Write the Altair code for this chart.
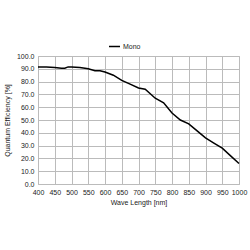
import altair as alt
import pandas as pd

wavelength = [400, 425, 450, 470, 480, 490, 500, 525, 550, 570, 585, 600, 625, 650, 675, 700, 720, 750, 775, 800, 825, 850, 875, 900, 925, 950, 975, 1000]
efficiency = [91.5, 91.5, 91.0, 90.5, 90.5, 91.5, 91.5, 91.0, 90.0, 88.5, 88.5, 87.5, 85.0, 81.0, 78.0, 75.0, 74.0, 67.0, 63.5, 55.5, 50.0, 47.0, 41.5, 36.0, 32.0, 28.0, 22.0, 16.0]
series = ["Mono"] * len(wavelength)

df = pd.DataFrame({"wl": wavelength, "qe": efficiency, "s": series})

font = "Liberation Sans"

chart = alt.Chart(df).mark_line(strokeWidth=1.5).encode(
    x=alt.X("wl:Q", title="Wave Length [nm]",
            scale=alt.Scale(domain=[400, 1000], nice=False),
            axis=alt.Axis(values=list(range(400, 1001, 50)), format="d", labelFontSize=7, titleFontSize=7,
                          labelFont=font, titleFont=font, labelColor="#222222", titleColor="#222222",
                          titleFontWeight="normal", ticks=False, labelPadding=4, titlePadding=3,
                          domain=False, gridColor="#bbbbbb", labelFlush=False)),
    y=alt.Y("qe:Q", title="Quantum Efficiency [%]",
            scale=alt.Scale(domain=[0, 100], nice=False),
            axis=alt.Axis(values=list(range(0, 101, 10)), format=".1f", labelFontSize=7, titleFontSize=7,
                          labelFont=font, titleFont=font, labelColor="#222222", titleColor="#222222",
                          titleFontWeight="normal", ticks=False, labelPadding=4, titlePadding=6,
                          domain=False, gridColor="#bbbbbb")),
    color=alt.Color("s:N", scale=alt.Scale(range=["#000000"]),
                    legend=alt.Legend(title=None, orient="none", legendX=70, legendY=-16,
                                      symbolType="stroke", symbolSize=120, symbolStrokeWidth=1.5,
                                      labelFontSize=7, labelFont=font, labelColor="#222222",
                                      labelOffset=2)),
).properties(
    width=201, height=128,
    autosize=alt.AutoSizeParams(type="none"),
    padding={"left": 38, "top": 56, "right": 11, "bottom": 66},
).configure_view(stroke="#bbbbbb")

chart.save("out.html", embed_options={"renderer": "svg", "actions": False})
